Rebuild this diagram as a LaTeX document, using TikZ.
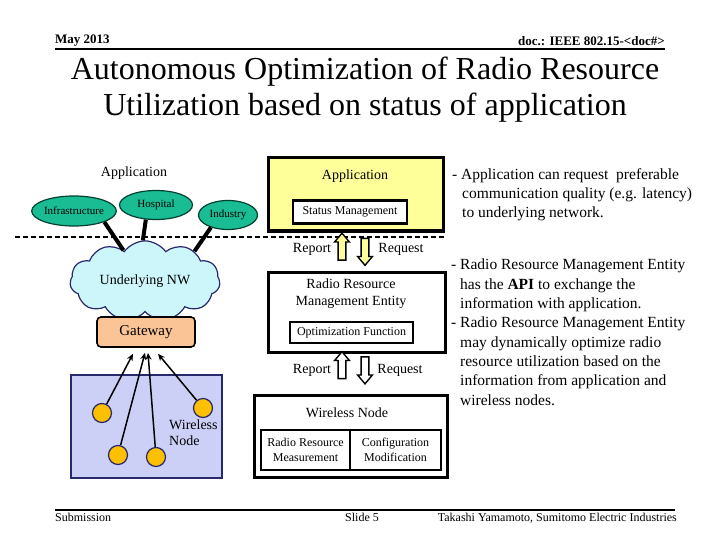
\documentclass[tikz,border=0pt]{standalone}
\usepackage{fontspec}
\setmainfont{Liberation Serif}
\usetikzlibrary{shapes.geometric,shapes.symbols,shapes.arrows,arrows.meta}
\definecolor{appyellow}{RGB}{255,255,153}
\definecolor{leafgreen}{RGB}{26,188,148}
\definecolor{leafline}{RGB}{0,64,48}
\definecolor{cloudfill}{RGB}{204,246,250}
\definecolor{navyline}{RGB}{40,40,110}
\definecolor{gatefill}{RGB}{250,196,150}
\definecolor{fieldfill}{RGB}{204,208,246}
\definecolor{dotfill}{RGB}{252,192,0}
\newcommand{\fsz}[2]{\fontsize{#1}{#2}\selectfont}
\begin{document}
\begin{tikzpicture}[x=1pt,y=-1pt,
  leaf/.style={ellipse,draw=leafline,fill=leafgreen,line width=1.2pt,inner sep=0pt,font=\fsz{11}{13}},
  stem/.style={line width=4pt},
  frame/.style={draw,line width=3pt,inner sep=0pt},
  subframe/.style={draw,line width=2.2pt,inner sep=0pt,align=center,font=\fsz{12}{15}},
  blockarrow/.style={single arrow,draw,line width=1.4pt,minimum height=27pt,inner sep=3.2pt,
    single arrow head extend=3.5pt,single arrow head indent=0pt,single arrow tip angle=80},
  mote/.style={circle,draw=navyline,fill=dotfill,line width=1.2pt,minimum size=19pt,inner sep=0pt},
  link/.style={-{Stealth[length=7pt,width=6pt]},line width=1.5pt},
  lbl/.style={font=\fsz{14}{17},inner sep=0pt},
  note/.style={align=left,anchor=north west,inner sep=0pt,font=\fsz{15.5}{19.3}}]
  \useasboundingbox (0,0) rectangle (720,540);
  % header and footer
  \node[anchor=base west,font=\bfseries\fsz{13}{15},inner sep=0pt] (month) at (55,44) {May 2013};
  \node[anchor=base east,font=\bfseries\fsz{13}{15},inner sep=0pt] (docno) at (665,46) {doc.: IEEE 802.15-<doc\#>};
  \draw[line width=2pt] (55,49) -- (665,49);
  \node[font=\fsz{32}{36},align=center,inner sep=0pt] (title) at (365,90)
    {Autonomous Optimization of Radio Resource\\Utilization based on status of application};
  \draw[line width=2pt] (55,510) -- (675,510);
  \node[anchor=base west,font=\fsz{12}{14},inner sep=0pt] (subm) at (55,521) {Submission};
  \node[anchor=base,font=\fsz{12}{14},inner sep=0pt] (slide) at (362,521) {Slide 5};
  \node[anchor=base east,font=\fsz{12}{14},inner sep=0pt] (author) at (677,521) {Takashi Yamamoto, Sumitomo Electric Industries};

  % left: applications over the network
  \node[lbl] (applabel) at (134,173) {Application};
  \node[leaf,minimum width=84pt,minimum height=30pt] (infra) at (74,211) {Infrastructure};
  \node[leaf,minimum width=73pt,minimum height=29pt] (hosp) at (156,205) {Hospital};
  \node[leaf,minimum width=59pt,minimum height=29pt] (indus) at (228,215) {Industry};
  \node[cloud,cloud puffs=11,cloud puff arc=110,aspect=2,draw=navyline,fill=cloudfill,line width=1.2pt,
    minimum width=150pt,minimum height=74pt,inner sep=0pt,font=\fsz{14}{16}] (under) at (145,281) {Underlying NW};
  \draw[stem] (infra.south east) -- (under.125);
  \draw[stem] (hosp.235) -- (under.93);
  \draw[stem] (indus.216) -- (under.31);
  \draw[line width=1.5pt,dash pattern=on 5pt off 3pt] (15,237) -- (446,237);
  \node[rounded corners=4pt,draw,line width=1.6pt,fill=gatefill,minimum width=98pt,minimum height=30pt,
    font=\fsz{15}{17}] (gw) at (146,332) {Gateway};
  \node[draw=navyline,fill=fieldfill,line width=1.2pt,minimum width=151pt,minimum height=103pt,inner sep=0pt] (field) at (146.5,426.5) {};
  \node[mote] (m1) at (102,413) {};
  \node[mote] (m2) at (118,455) {};
  \node[mote] (m3) at (156,457) {};
  \node[mote] (m4) at (203,408) {};
  \coordinate (g1) at ([shift={(-13pt,-6pt)}]gw.south);
  \coordinate (g2) at ([shift={(-1pt,-5pt)}]gw.south);
  \coordinate (g3) at ([shift={(2pt,-5pt)}]gw.south);
  \coordinate (g4) at ([shift={(12pt,-6pt)}]gw.south);
  \draw[link] (m1) -- (g1);
  \draw[link] (m2) -- (g2);
  \draw[link] (m3) -- (g3);
  \draw[link] (m4) -- (g4);
  \node[lbl,align=left,anchor=north west,font=\fsz{14}{16}] (wlabel) at (169,420) {Wireless\\Node};

  % middle: application, entity, wireless node
  \node[frame,fill=appyellow,minimum width=175pt,minimum height=73pt] (appbox) at (355.5,194.5) {};
  \node[lbl] (apptitle) at (355,176) {Application};
  \node[subframe,fill=white,minimum width=114pt,minimum height=23pt] (status) at (350,212) {Status Management};
  \node[blockarrow,fill=appyellow,rotate=90] (up1) at (342,249) {};
  \node[blockarrow,fill=appyellow,rotate=-90] (down1) at (365,249.5) {};
  \node[lbl] (rep1) at (312,249) {Report};
  \node[lbl] (req1) at (401,249) {Request};
  \node[frame,minimum width=177pt,minimum height=80pt] (rrm) at (356.5,312) {};
  \node[lbl,align=center] (rrmtitle) at (351,293.5) {Radio Resource\\Management Entity};
  \node[subframe,minimum width=123pt,minimum height=21pt] (opt) at (351.5,332.5) {Optimization Function};
  \node[blockarrow,fill=white,rotate=90] (up2) at (342,367.5) {};
  \node[blockarrow,fill=white,rotate=-90] (down2) at (365,368) {};
  \node[lbl] (rep2) at (312,370) {Report};
  \node[lbl] (req2) at (400,370) {Request};
  \node[frame,minimum width=193pt,minimum height=82pt] (wn) at (350.5,436) {};
  \node[lbl] (wntitle) at (347,413) {Wireless Node};
  \node[subframe,minimum width=89pt,minimum height=40pt] (meas) at (305.5,450) {Radio Resource\\Measurement};
  \node[subframe,minimum width=91pt,minimum height=40pt] (cfg) at (395.5,450) {Configuration\\Modification};

  % right: notes
  \node[note] (note1) at (452,168) {- Application can request \ preferable\\
    \hspace*{10pt}communication quality (e.g. latency)\\
    \hspace*{10pt}to underlying network.};
  \node[note] (note2) at (451,259) {- Radio Resource Management Entity\\
    \hspace*{9pt}has the \textbf{API} to exchange the\\
    \hspace*{9pt}information with application.\\
    - Radio Resource Management Entity\\
    \hspace*{9pt}may dynamically optimize radio\\
    \hspace*{9pt}resource utilization based on the\\
    \hspace*{9pt}information from application and\\
    \hspace*{9pt}wireless nodes.};
\end{tikzpicture}
\end{document}
